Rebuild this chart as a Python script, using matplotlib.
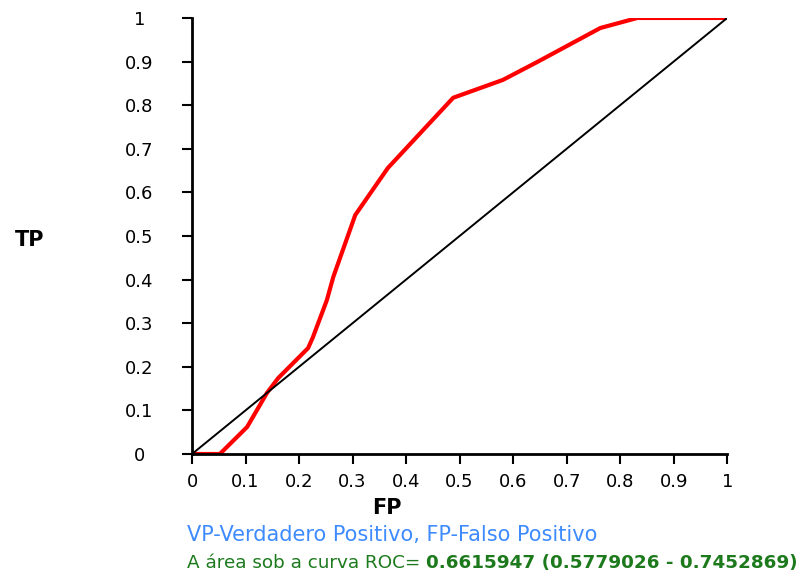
import matplotlib.pyplot as plt

# ROC curve
fp = [0, 0.052, 0.103, 0.140, 0.161, 0.217, 0.226, 0.252, 0.264, 0.305,
      0.366, 0.488, 0.581, 0.645, 0.763, 0.832, 1.0]
tp = [0, 0, 0.062, 0.140, 0.174, 0.243, 0.268, 0.353, 0.406, 0.548,
      0.656, 0.817, 0.858, 0.899, 0.977, 1.0, 1.0]
ticks = [0, 0.1, 0.2, 0.3, 0.4, 0.5, 0.6, 0.7, 0.8, 0.9, 1]
tick_labels = ['0', '0.1', '0.2', '0.3', '0.4', '0.5', '0.6', '0.7', '0.8', '0.9', '1']

plt.rcParams['font.family'] = ['DejaVu Sans']

fig = plt.figure(figsize=(8, 5.76), dpi=100)
ax = fig.add_axes([0.24, 0.2118, 0.669, 0.757])

ax.plot(fp, tp, c='#ff0000', lw=3, solid_joinstyle='round')
ax.plot([0, 1], [0, 1], c='black', lw=1.4)

ax.set_xlim(0, 1)
ax.set_ylim(0, 1)
ax.set_xticks(ticks)
ax.set_xticklabels(tick_labels)
ax.set_yticks(ticks)
ax.set_yticklabels(tick_labels, ha='center')
ax.spines['top'].set_visible(False)
ax.spines['right'].set_visible(False)
ax.spines['left'].set_linewidth(2)
ax.spines['bottom'].set_linewidth(2)
ax.tick_params(axis='both', length=7, width=1.5, labelsize=13)
ax.tick_params(axis='x', pad=7)
ax.tick_params(axis='y', pad=31)

fig.text(0.0375, 0.583, 'TP', fontsize=15, fontweight='bold', ha='center', va='center')
fig.text(0.483, 0.118, 'FP', fontsize=15, fontweight='bold', ha='center', va='center')

fig.text(0.234, 0.071, 'VP-Verdadero Positivo, FP-Falso Positivo',
         fontsize=15, color='#3d8bff', va='center')
t1 = fig.text(0.234, 0.022, 'A área sob a curva ROC= ',
              fontsize=13.2, color='#1c7a1c', va='center')
fig.canvas.draw()
bb = t1.get_window_extent()
x_end = bb.x1 / fig.bbox.width
fig.text(x_end, 0.022, '0.6615947 (0.5779026 - 0.7452869)',
         fontsize=13.2, color='#1c7a1c', fontweight='bold', va='center')

fig.savefig('out.png', dpi=100)
